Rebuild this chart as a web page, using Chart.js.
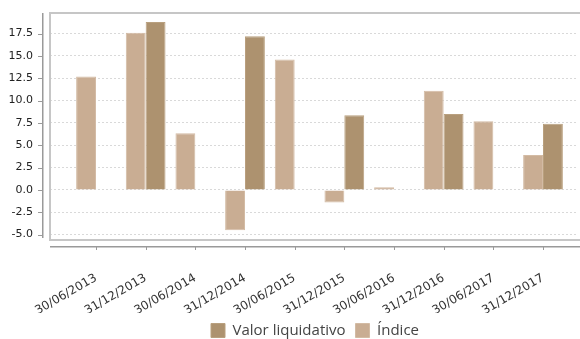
<!DOCTYPE html>
<html>
<head>
<meta charset="utf-8">
<script src="https://cdn.jsdelivr.net/npm/chart.js@4"></script>
<style>
  html, body { margin: 0; padding: 0; background: #fff; overflow: hidden; }
  #wrap { width: 580px; height: 339px; }
</style>
</head>
<body>
<div id="wrap"><canvas id="grafico"></canvas></div>
<script>
// datas de referencia
const labels = ["30/06/2013", "31/12/2013", "30/06/2014", "31/12/2014", "30/06/2015",
  "31/12/2015", "30/06/2016", "31/12/2016", "30/06/2017", "31/12/2017"];
const indice = [12.7, 17.6, 6.35, -4.5, 14.6, -1.4, 0.3, 11.1, 7.7, 3.9];
const valorLiquidativo = [null, 18.8, null, 17.2, null, 8.35, null, 8.5, null, 7.4];
const yTicks = [-5, -2.5, 0, 2.5, 5, 7.5, 10, 12.5, 15, 17.5];

const toPoints = (arr) => arr.map((v, i) => ({ x: i, y: v }));

// moldura e eixos afastados da area do grafico (com fillRect)
const eixos = {
  id: "eixos",
  beforeDatasetsDraw(chart) {
    const { ctx, chartArea: a, scales } = chart;
    const w = chart.width;
    ctx.save();
    ctx.fillStyle = "#c6c6c6";
    ctx.fillRect(a.left, a.top - 1, w - a.left, 2);
    ctx.fillRect(a.left - 1, a.top - 1, 2, a.bottom - a.top + 2);
    ctx.fillRect(a.left, a.bottom - 1, w - a.left, 2);

    ctx.fillStyle = "#9a9a9a";
    const yx = a.left - 8;
    ctx.fillRect(yx, a.top, 1.5, a.bottom - a.top - 2);
    yTicks.forEach((v) => {
      const py = Math.round(scales.y.getPixelForValue(v));
      ctx.fillRect(yx - 4, py, 4, 1);
    });
    const xy = a.bottom + 6;
    ctx.fillRect(a.left, xy, w - a.left, 1.5);
    labels.forEach((l, i) => {
      const px = Math.round(scales.x.getPixelForValue(i));
      ctx.fillRect(px, xy, 1, 4);
    });
    ctx.restore();
  },
  afterDraw(chart) {
    // sem borda do lado direito
    const { ctx, chartArea: a } = chart;
    ctx.save();
    ctx.fillStyle = "#fff";
    ctx.fillRect(chart.width - 4, a.top + 1, 4, a.bottom - a.top - 2);
    ctx.restore();
  }
};

new Chart(document.getElementById("grafico"), {
  type: "bar",
  data: {
    datasets: [
      {
        label: "Índice",
        data: toPoints(indice),
        backgroundColor: "#c9ad93",
        borderColor: "#d3bba4",
        borderWidth: 1
      },
      {
        label: "Valor liquidativo",
        data: toPoints(valorLiquidativo),
        backgroundColor: "#ad926f",
        borderColor: "#b9a07f",
        borderWidth: 1
      }
    ]
  },
  options: {
    responsive: true,
    maintainAspectRatio: false,
    animation: false,
    layout: { padding: { top: 13, right: 0, left: 0, bottom: 0 } },
    datasets: { bar: { categoryPercentage: 0.8, barPercentage: 1.0 } },
    scales: {
      x: {
        type: "linear",
        offset: false,
        min: -0.926,
        max: 9.745,
        afterBuildTicks: (s) => { s.ticks = labels.map((l, i) => ({ value: i })); },
        afterFit: (s) => { s.height = 73; s.paddingLeft = 0; s.paddingRight = 0; },
        grid: { display: false, drawTicks: false, drawOnChartArea: false },
        border: { display: false },
        ticks: {
          autoSkip: false,
          maxRotation: 30,
          minRotation: 30,
          padding: 31,
          color: "#333",
          font: { family: "DejaVu Sans", size: 12 },
          callback: (v) => labels[v]
        }
      },
      y: {
        min: -5.6,
        max: 19.8,
        afterBuildTicks: (s) => { s.ticks = yTicks.map((v) => ({ value: v })); },
        afterFit: (s) => { s.width = 50; s.paddingTop = 0; s.paddingBottom = 0; },
        grid: { color: "#d9d9d9", drawTicks: false },
        border: { display: false, dash: [2, 2] },
        ticks: {
          padding: 17,
          color: "#222",
          font: { family: "DejaVu Sans", size: 11 },
          callback: (v) => v.toFixed(1)
        }
      }
    },
    plugins: {
      legend: {
        position: "bottom",
        fullSize: false,
        reverse: true,
        maxHeight: 26,
        labels: {
          boxWidth: 14,
          boxHeight: 14,
          padding: 10,
          color: "#444",
          font: { family: "Open Sans", size: 15 }
        }
      },
      tooltip: { enabled: false }
    }
  },
  plugins: [eixos]
});
</script>
</body>
</html>
